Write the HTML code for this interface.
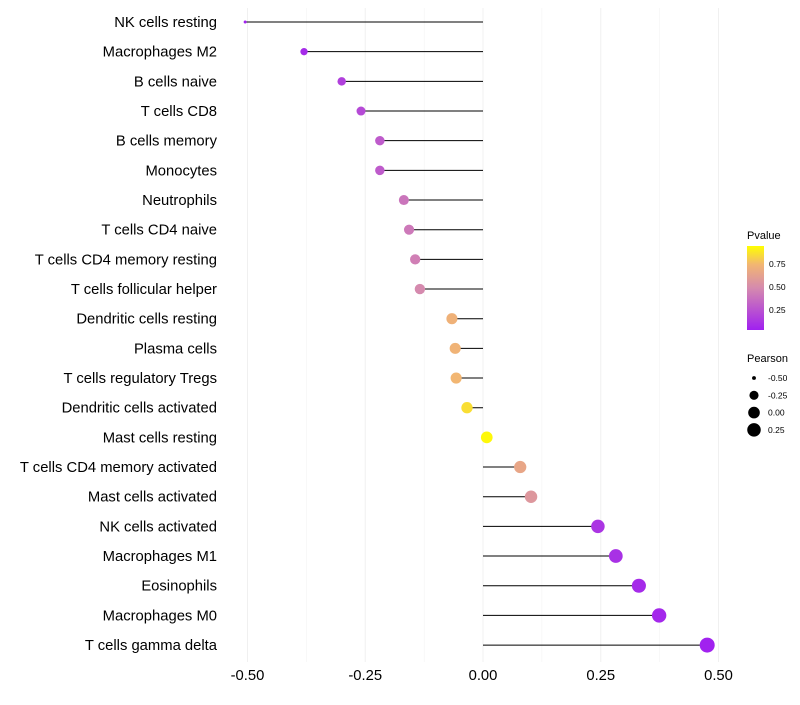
<!DOCTYPE html>
<html><head><meta charset="utf-8"><style>
body{margin:0;background:#fff;font-family:"Liberation Sans",sans-serif}
</style></head><body>
<svg id="chart" width="800" height="700" xmlns="http://www.w3.org/2000/svg" font-family="Liberation Sans, sans-serif">
<defs><linearGradient id="pg" x1="0" y1="1" x2="0" y2="0">
<stop offset="0" stop-color="#A020F0"/><stop offset="0.5" stop-color="#D58AAE"/><stop offset="0.78" stop-color="#F2B672"/><stop offset="1" stop-color="#FFFF00"/></linearGradient></defs>
<g id="grid"></g>
<g id="marks"></g>
<g id="labels"></g>
<g id="xt"></g>
<g>
<text x="747" y="239" font-size="11">Pvalue</text>
<rect x="747" y="246" width="17" height="84" fill="url(#pg)"/>
<text x="769" y="267" font-size="8.5">0.75</text>
<text x="769" y="290" font-size="8.5">0.50</text>
<text x="769" y="313" font-size="8.5">0.25</text>
</g>
<g id="sl">
<text x="747" y="362" font-size="11">Pearson</text>
</g>
</svg>
<script>
const categories=["NK cells resting","Macrophages M2","B cells naive","T cells CD8","B cells memory","Monocytes","Neutrophils","T cells CD4 naive","T cells CD4 memory resting","T cells follicular helper","Dendritic cells resting","Plasma cells","T cells regulatory  Tregs ","Dendritic cells activated","Mast cells resting","T cells CD4 memory activated","Mast cells activated","NK cells activated","Macrophages M1","Eosinophils","Macrophages M0","T cells gamma delta"];
const pearson=[-0.505,-0.38,-0.30,-0.259,-0.219,-0.219,-0.168,-0.157,-0.144,-0.134,-0.066,-0.059,-0.057,-0.034,0.008,0.079,0.102,0.244,0.282,0.331,0.374,0.476];
const pvalue=[0.01,0.05,0.15,0.2,0.28,0.28,0.4,0.42,0.45,0.5,0.75,0.76,0.78,0.9,0.98,0.68,0.58,0.1,0.08,0.05,0.04,0.01];
const xTicks=[-0.5,-0.25,0,0.25,0.5];
const xTickLabels=["-0.50","-0.25","0.00","0.25","0.50"];
const legendSizes=[-0.5,-0.25,0,0.25];
const legendLabels=["-0.50","-0.25","0.00","0.25"];
const NS="http://www.w3.org/2000/svg";
const X=v=>483+v*471;
const Y=i=>22+i*29.67;
const R=v=>1.5+6*Math.sqrt(Math.max(0,(v+0.505)/0.98));
function lerp(a,b,t){return a.map((x,i)=>Math.round(x+(b[i]-x)*t));}
function col(p){const s=[[0,[160,32,240]],[0.5,[213,138,174]],[0.78,[242,182,114]],[1,[255,255,0]]];
for(let i=1;i<s.length;i++){if(p<=s[i][0]){const t=(p-s[i-1][0])/(s[i][0]-s[i-1][0]);return "rgb("+lerp(s[i-1][1],s[i][1],t).join(",")+")";}}return "rgb(255,255,0)";}
function el(t,a,p){const e=document.createElementNS(NS,t);for(const k in a)e.setAttribute(k,a[k]);p.appendChild(e);return e;}
const grid=document.getElementById('grid');
for(let k=-4;k<=4;k++){const v=k*0.125;const g=el('line',{x1:X(v),x2:X(v),y1:8,y2:662,stroke:'#f0f0f0','stroke-width':k%2===0?1:0.5},grid);

}
const marks=document.getElementById('marks'),labels=document.getElementById('labels');
categories.forEach((c,i)=>{
const l=el('line',{x1:X(0),x2:X(pearson[i]),y1:Y(i),y2:Y(i),stroke:'#000','stroke-width':1},marks);


const d=el('circle',{cx:X(pearson[i]),cy:Y(i),r:R(pearson[i]),fill:col(pvalue[i])},marks);


const t=el('text',{x:217,y:Y(i)+5,'text-anchor':'end','font-size':14.8,fill:'#000'},labels);t.textContent=c;


});
const xt=document.getElementById('xt');
xTicks.forEach((v,i)=>{const t=el('text',{x:X(v),y:680,'text-anchor':'middle','font-size':14.8,fill:'#000'},xt);t.textContent=xTickLabels[i];

});
const sl=document.getElementById('sl');
legendSizes.forEach((v,i)=>{const y=378+i*17.3;
const c=el('circle',{cx:754,cy:y,r:R(v),fill:'#000'},sl);


const t=el('text',{x:768,y:y+3,'font-size':8.5},sl);t.textContent=legendLabels[i];

});
</script>
</body></html>
